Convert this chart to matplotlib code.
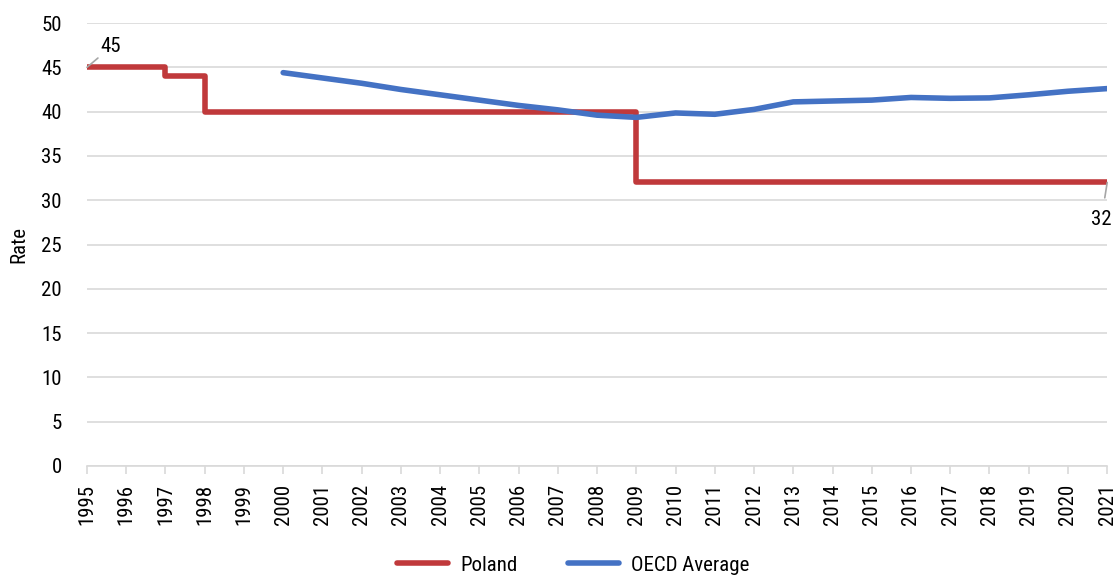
import matplotlib
matplotlib.use("Agg")
import matplotlib.pyplot as plt
from matplotlib import font_manager

names = {f.name for f in font_manager.fontManager.ttflist}
fam = "Roboto Condensed" if "Roboto Condensed" in names else "Roboto"
plt.rcParams["font.family"] = [fam, "DejaVu Sans"]

years = list(range(1995, 2022))
poland = [45, 45, 44, 40, 40, 40, 40, 40, 40, 40, 40, 40, 40, 40,
          32, 32, 32, 32, 32, 32, 32, 32, 32, 32, 32, 32, 32]
oecd_years = list(range(2000, 2022))
oecd = [44.4, 43.8, 43.2, 42.5, 41.9, 41.3, 40.7, 40.2, 39.6, 39.35, 39.85,
        39.7, 40.25, 41.1, 41.2, 41.3, 41.6, 41.5, 41.55, 41.9, 42.3, 42.6]

red = "#C0393B"
blue = "#4472C4"

fig = plt.figure(figsize=(11.15, 5.76), dpi=100)
ax = fig.add_axes([0.078, 0.191, 0.915, 0.769])

ax.step(years, poland, where="post", color=red, lw=4, label="Poland",
        solid_joinstyle="round", solid_capstyle="round")
ax.plot(oecd_years, oecd, color=blue, lw=4, label="OECD Average",
        solid_joinstyle="round", solid_capstyle="round")

ax.set_xlim(1995, 2021)
ax.set_ylim(0, 50)
ax.set_yticks(range(0, 51, 5))
ax.set_xticks(years)
ax.set_xticklabels([str(y) for y in years], rotation=90, fontsize=15)
ax.tick_params(axis="y", length=0, labelsize=15, pad=18)
ax.tick_params(axis="x", length=6, color="#d9d9d9", width=1.2, pad=7)
ax.grid(axis="y", color="#d9d9d9", lw=1.2)
ax.set_axisbelow(True)
for s in ["top", "right", "left"]:
    ax.spines[s].set_visible(False)
ax.spines["bottom"].set_color("#d9d9d9")
ax.spines["bottom"].set_linewidth(1.2)
ax.set_ylabel("Rate", fontsize=15, labelpad=9)

# end labels
ax.annotate(str(poland[0]), xy=(years[0], poland[0]), xytext=(1995.35, 47.3),
            fontsize=15, ha="left", va="center",
            arrowprops=dict(arrowstyle="-", color="#a6a6a6", lw=1.2,
                            shrinkA=0, shrinkB=0))
ax.annotate(str(poland[-1]), xy=(years[-1], poland[-1]), xytext=(2020.85, 27.8),
            fontsize=15, ha="center", va="center",
            arrowprops=dict(arrowstyle="-", color="#a6a6a6", lw=1.2,
                            shrinkA=7, shrinkB=0),
            annotation_clip=False)

fig.legend(loc="center", bbox_to_anchor=(0.514, 0.019), ncol=2,
           frameon=False, fontsize=15, handlelength=2.45, handletextpad=0.6,
           columnspacing=2.4)

fig.savefig("out.png", dpi=100)
